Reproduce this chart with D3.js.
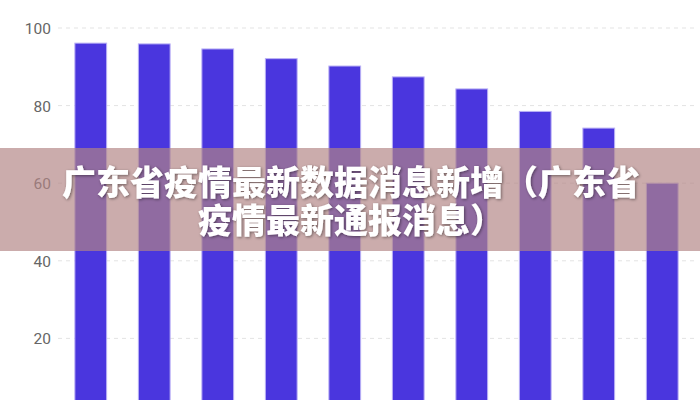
<!DOCTYPE html>
<html>
<head>
<meta charset="utf-8">
<script src="https://d3js.org/d3.v7.min.js"></script>
<style>
  body { margin: 0; background: #fff; overflow: hidden; }
  svg { display: block; }
  .tick text { font-family: Roboto, "Noto Sans", sans-serif; font-size: 15.5px; fill: #666; }
</style>
</head>
<body>
<div id="chart"></div>
<script>
// values
var categories = ["1", "2", "3", "4", "5", "6", "7", "8", "9", "10"];
var values = [96.1, 95.9, 94.6, 92.1, 90.2, 87.4, 84.3, 78.5, 74.2, 60.0];
var yTicks = [20, 40, 60, 80, 100];
var titleLines = ["广东省疫情最新数据消息新增（广东省", "疫情最新通报消息）"];

var W = 700, H = 400;

var svg = d3.select('#chart')
  .append('svg')
  .attr('width', W)
  .attr('height', H);

var x = d3.scaleBand()
  .domain(categories)
  .range([59, 694])
  .paddingInner(0.5)
  .paddingOuter(0.25);

var y = d3.scaleLinear()
  .domain([0, 100])
  .range([416, 28]);

// dashed grid
svg.append('g')
  .selectAll('line')
  .data(yTicks)
  .join('line')
  .attr('x1', 58)
  .attr('x2', 696)
  .attr('y1', function(d) { return y(d); })
  .attr('y2', function(d) { return y(d); })
  .attr('stroke', '#e3e3e3')
  .attr('stroke-width', 1)
  .attr('stroke-dasharray', '4,4');

// y axis labels
var yAxis = svg.append('g')
  .attr('transform', 'translate(51,0)')
  .call(d3.axisLeft(y).tickValues(yTicks).tickSize(0).tickPadding(0));
yAxis.select('.domain').remove();
yAxis.selectAll('.tick text').attr('dy', '0.35em');

// bars
svg.append('g')
  .selectAll('rect')
  .data(values)
  .join('rect')
  .attr('x', function(d, i) { return x(categories[i]); })
  .attr('y', function(d) { return y(d); })
  .attr('width', x.bandwidth())
  .attr('height', function(d) { return y(0) - y(d); })
  .attr('fill', '#4a36de')
  .attr('stroke', '#b9b0f5')
  .attr('stroke-width', 1);

// title band over the chart
svg.append('rect')
  .attr('x', 0)
  .attr('y', 148)
  .attr('width', W)
  .attr('height', 103)
  .attr('fill', 'rgb(178,132,132)')
  .attr('fill-opacity', 0.68);

var defs = svg.append('defs');
defs.append('filter')
  .attr('id', 'shadow')
  .attr('x', '-10%').attr('y', '-30%')
  .attr('width', '120%').attr('height', '160%')
  .append('feDropShadow')
  .attr('dx', 1).attr('dy', 1)
  .attr('stdDeviation', 1.5)
  .attr('flood-color', '#000')
  .attr('flood-opacity', 0.45);

// title, one text with two lines
var title = svg.append('text')
  .attr('filter', 'url(#shadow)')
  .attr('text-anchor', 'middle')
  .attr('font-family', '"Noto Sans CJK SC", sans-serif')
  .attr('font-weight', 900)
  .attr('font-size', '34px')
  .attr('fill', '#fff');

title.selectAll('tspan')
  .data(titleLines)
  .join('tspan')
  .attr('x', 351)
  .attr('y', function(d, i) { return 195 + i * 38; })
  .text(function(d) { return d; });
</script>
</body>
</html>
